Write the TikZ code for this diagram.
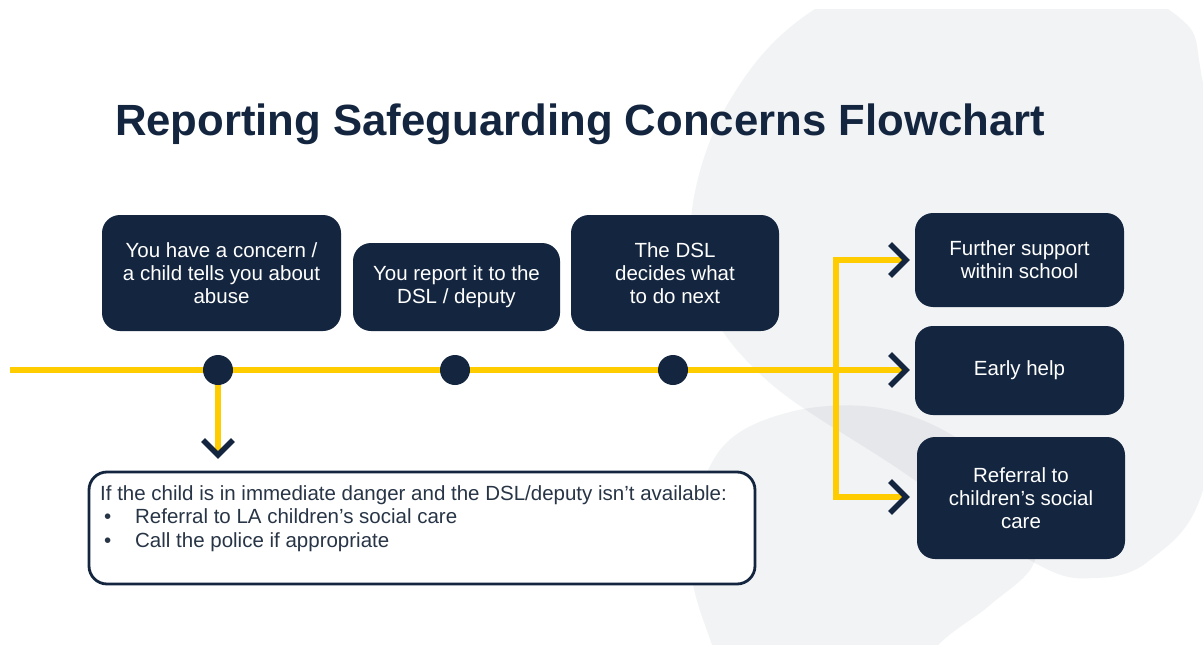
\documentclass[tikz,border=0pt]{standalone}
\usepackage{fontspec}
\setmainfont{Liberation Sans}
\definecolor{navy}{HTML}{14263F}
\definecolor{ylw}{HTML}{FFCC00}
\definecolor{bggray}{HTML}{F2F3F5}
\definecolor{bgdark}{HTML}{E6E7EA}
\definecolor{txtdark}{HTML}{283546}
\tikzset{
  stepbox/.style={fill=navy, rounded corners=18pt, text=white, align=center, inner sep=0pt,
    font=\fontsize{20.5}{23}\selectfont},
  dot/.style={circle, fill=navy, minimum size=30pt, inner sep=0pt},
  yl/.style={draw=ylw, line width=6pt},
  chev/.style={draw=navy, line width=5.5pt, line join=miter},
  note/.style={draw=navy, line width=2.8pt, fill=white, rounded corners=18pt},
  notetxt/.style={anchor=base west, inner sep=0pt, text=txtdark, font=\fontsize{20.5}{23}\selectfont}
}
\begin{document}
\begin{tikzpicture}[x=1pt,y=-1pt]
\useasboundingbox (0,0) rectangle (1203,645);
\fill[white] (0,0) rectangle (1203,645);
% background blobs
\begin{scope}
  \clip (0,9) rectangle (1203,645);
  \def\blobA{plot[smooth cycle, tension=0.6] coordinates {(815,9) (990,-70) (1168,9) (1203,83) (1228,300) (1203,490) (1150,560) (1096,578) (1035,563) (900,470) (770,383) (705,300) (692,210) (730,100)}}
  \def\blobB{plot[smooth cycle, tension=0.6] coordinates {(690,540) (720,450) (790,412) (880,408) (960,440) (1020,500) (1035,560) (990,605) (938,645) (870,720) (750,700) (705,625)}}
  \fill[bggray] \blobA;
  \fill[bggray] \blobB;
  \begin{scope}
    \clip \blobA;
    \fill[bgdark] \blobB;
  \end{scope}
\end{scope}
% title
\node[anchor=base, inner sep=0pt, text=navy, font=\fontsize{43.7}{50}\selectfont\bfseries] (title) at (580,135) {Reporting Safeguarding Concerns Flowchart};
% top boxes
\node[stepbox, minimum width=239pt, minimum height=116pt] (b1) at (221.5,273) {You have a concern /\\a child tells you about\\abuse};
\node[stepbox, minimum width=207pt, minimum height=88pt] (b2) at (456.5,287) {You report it to the\\DSL / deputy};
\node[stepbox, minimum width=208pt, minimum height=116pt] (b3) at (675,273) {The DSL\\decides what\\to do next};
% right boxes
\node[stepbox, minimum width=209pt, minimum height=94pt] (b4) at (1019.5,260) {Further support\\within school};
\node[stepbox, minimum width=209pt, minimum height=89pt] (b5) at (1019.5,370.5) {Early help};
\node[stepbox, minimum width=208pt, minimum height=122pt] (b6) at (1021,498) {Referral to\\children’s social\\care};
% coordinates
\coordinate (lstart) at (10,370);
\coordinate (jt) at (836,260);
\coordinate (jb) at (836,497);
\coordinate (t4) at (906,260);
\coordinate (t5) at (906,370);
\coordinate (t6) at (906,497);
\coordinate (tdown) at (218,455);
% dots positions
\coordinate (p1) at (218,370);
\coordinate (p2) at (455,370);
\coordinate (p3) at (673,370);
% yellow lines
\draw[yl] (lstart) -- (t5);
\draw[yl, line join=miter] (t4) -- (jt) -- (jb) -- (t6);
\draw[yl] (p1) -- (tdown);
% dots
\node[dot] (d1) at (p1) {};
\node[dot] (d2) at (p2) {};
\node[dot] (d3) at (p3) {};
% chevrons
\draw[chev] (t4) ++(-16,-16) -- (t4) -- ++(-16,16);
\draw[chev] (t5) ++(-16,-16) -- (t5) -- ++(-16,16);
\draw[chev] (t6) ++(-16,-16) -- (t6) -- ++(-16,16);
\draw[chev] (tdown) ++(-15,-15) -- (tdown) -- ++(15,-15);
% note box
\node[note, minimum width=666pt, minimum height=112pt] (nb) at (422,528) {};
\node[notetxt] (n1) at (100,500) {If the child is in immediate danger and the DSL/deputy isn’t available:};
\node[notetxt] (n2) at (104,523.5) {\makebox[31pt][l]{•}Referral to LA children’s social care};
\node[notetxt] (n3) at (104,547) {\makebox[31pt][l]{•}Call the police if appropriate};
\end{tikzpicture}
\end{document}
